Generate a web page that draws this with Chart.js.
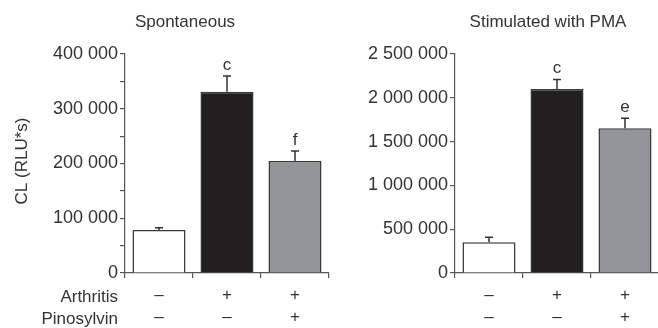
<!DOCTYPE html>
<html>
<head>
<meta charset="utf-8">
<script src="https://cdn.jsdelivr.net/npm/chart.js@4.4.0/dist/chart.umd.min.js"></script>
<style>
  html, body { margin: 0; padding: 0; background: #fff; overflow: hidden; }
  #wrap { position: relative; width: 658px; height: 328px; }
  canvas { position: absolute; top: 0; }
  #left { left: 0; }
  #right { left: 330px; }
</style>
</head>
<body>
<div id="wrap">
  <canvas id="left" width="330" height="328"></canvas>
  <canvas id="right" width="330" height="328"></canvas>
</div>
<script>
// groups: control, arthritis, arthritis + pinosylvin
const categories = ["Control", "Arthritis", "Arthritis + Pinosylvin"];
const arthritisRow = ["–", "+", "+"];
const pinosylvinRow = ["–", "–", "+"];
const rowLabels = ["Arthritis", "Pinosylvin"];

const spontMeans = [78500, 331000, 204500];
const spontErrors = [4000, 29000, 18500];
const spontLetters = ["", "c", "f"];
const spontTicks = { max: 400000, step: 50000, labelEvery: 100000 };

const pmaMeans = [352000, 2100000, 1651000];
const pmaErrors = [57000, 110000, 115000];
const pmaLetters = ["", "c", "e"];
const pmaTicks = { max: 2500000, step: 500000, labelEvery: 500000 };

const barColors = ["#ffffff", "#231f20", "#939598"];
const ink = "#333333";
const axisColor = "#555555";
const FONT = "'Liberation Sans', Arial, sans-serif";

function fmt(v) {
  return String(v).replace(/\B(?=(\d{3})+(?!\d))/g, " ");
}

// draws error bars, letters, titles and the row labels
const extras = {
  id: "extras",
  afterDatasetsDraw(chart, args, opts) {
    const ctx = chart.ctx;
    const y = chart.scales.y;
    const meta = chart.getDatasetMeta(0);
    ctx.save();
    ctx.strokeStyle = ink;
    ctx.lineWidth = 1.5;
    meta.data.forEach((bar, i) => {
      const top = y.getPixelForValue(opts.means[i] + opts.errors[i]);
      ctx.beginPath();
      ctx.moveTo(bar.x, bar.y);
      ctx.lineTo(bar.x, top);
      ctx.moveTo(bar.x - 4, top);
      ctx.lineTo(bar.x + 4, top);
      ctx.stroke();
      if (opts.letters[i]) {
        ctx.fillStyle = ink;
        ctx.font = "17px " + FONT;
        ctx.textAlign = "center";
        ctx.textBaseline = "alphabetic";
        ctx.fillText(opts.letters[i], bar.x, top - 6);
      }
    });

    ctx.fillStyle = ink;
    ctx.font = "17px " + FONT;
    ctx.textAlign = "center";
    ctx.textBaseline = "middle";
    ctx.fillText(opts.title, opts.titleX, 22);

    if (opts.showRowLabels) {
      ctx.textAlign = "right";
      ctx.fillText(rowLabels[0], 118, 297);
      ctx.fillText(rowLabels[1], 118, 319);
      ctx.save();
      ctx.translate(22, 161);
      ctx.rotate(-Math.PI / 2);
      ctx.textAlign = "center";
      ctx.fillText("CL (RLU*s)", 0, 0);
      ctx.restore();
    }
    ctx.restore();
  }
};

function makeChart(id, means, errors, letters, ticks, title, titleX, showRowLabels) {
  return new Chart(document.getElementById(id), {
    type: "bar",
    data: {
      labels: categories.map((c, i) => [arthritisRow[i], pinosylvinRow[i]]),
      datasets: [{
        data: means,
        backgroundColor: barColors,
        borderColor: "#3a3a3a",
        borderWidth: 1.5,
        barPercentage: 0.78,
        categoryPercentage: 1.0
      }]
    },
    options: {
      responsive: false,
      animation: false,
      devicePixelRatio: 1,
      layout: { padding: { top: 54, left: 0, right: 1, bottom: 0 } },
      plugins: {
        legend: { display: false },
        tooltip: { enabled: false },
        extras: { means, errors, letters, title, titleX, showRowLabels }
      },
      scales: {
        x: {
          afterFit: (s) => { s.height = 55; },
          grid: { drawOnChartArea: false, tickLength: 5, color: axisColor, lineWidth: 1.2 },
          border: { color: axisColor, width: 1.2 },
          ticks: {
            color: ink,
            padding: 6,
            maxRotation: 0,
            font: { family: FONT, size: 17, lineHeight: 1.3 }
          }
        },
        y: {
          min: 0,
          max: ticks.max,
          afterFit: (s) => { s.width = 125; },
          grid: { drawOnChartArea: false, tickLength: 5, color: axisColor, lineWidth: 1.2 },
          border: { color: axisColor, width: 1.2 },
          ticks: {
            stepSize: ticks.step,
            color: ink,
            padding: 2,
            font: { family: FONT, size: 18 },
            callback: (v) => (v % ticks.labelEvery === 0 ? fmt(v) : "")
          }
        }
      }
    },
    plugins: [extras]
  });
}

makeChart("left", spontMeans, spontErrors, spontLetters, spontTicks, "Spontaneous", 185, true);
makeChart("right", pmaMeans, pmaErrors, pmaLetters, pmaTicks, "Stimulated with PMA", 218, false);
</script>
</body>
</html>
